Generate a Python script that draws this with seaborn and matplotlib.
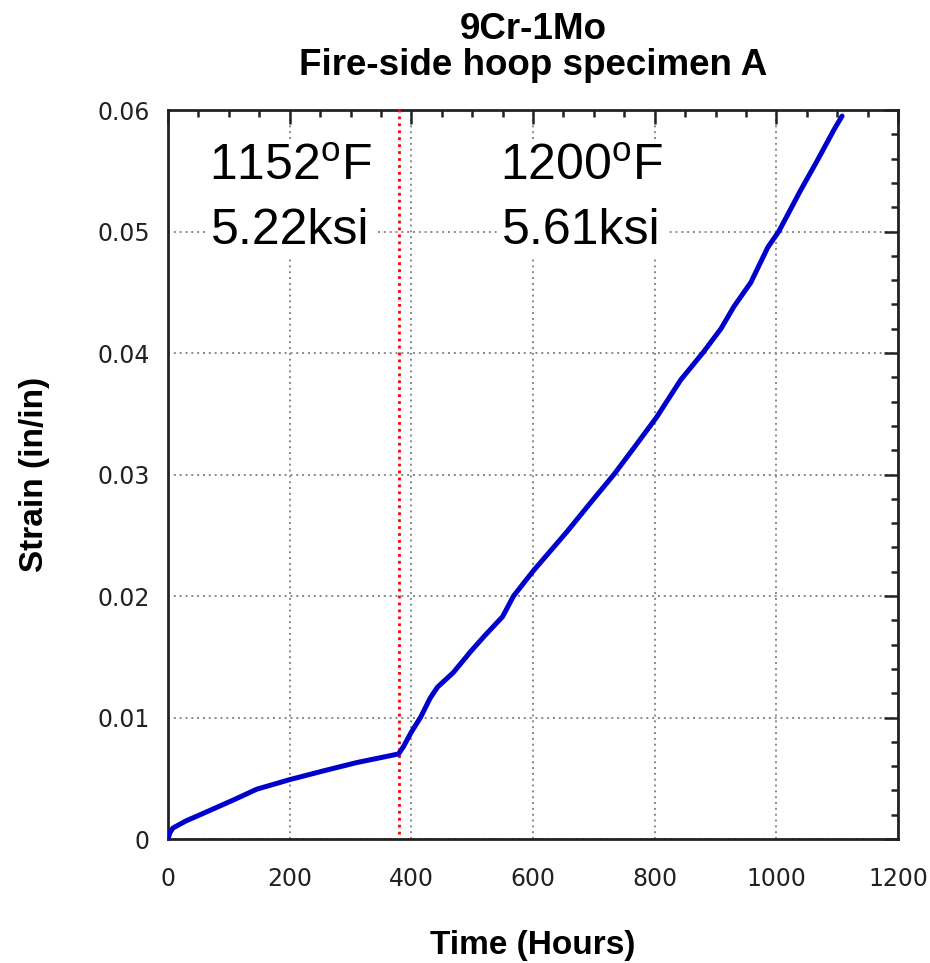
import numpy as np
import pandas as pd
import matplotlib
matplotlib.use("Agg")
import matplotlib.pyplot as plt
import seaborn as sns

hours = [0, 3, 8, 30, 53, 80, 107, 146, 201, 255, 311, 350, 379,
         387, 400, 415, 431, 443, 469, 497, 520, 550, 568, 601, 656,
         695, 733, 766, 803, 843, 879, 909, 930, 958, 986, 1004, 1040,
         1068, 1095, 1108]
strain = [0.0, 0.0005, 0.0009, 0.0015, 0.0020, 0.0026, 0.0032, 0.0041,
          0.0049, 0.0056, 0.0063, 0.0067, 0.0070,
          0.0076, 0.0088, 0.0100, 0.0116, 0.0125, 0.0137, 0.0154, 0.0167,
          0.0183, 0.0200, 0.0221, 0.0253, 0.0277, 0.0300, 0.0322, 0.0347,
          0.0378, 0.0400, 0.0420, 0.0438, 0.0458, 0.0487, 0.0500, 0.0534,
          0.0559, 0.0584, 0.0595]
switch_hour = 380
labels_left = ["1152$^{\\mathregular{o}}$F", "5.22ksi"]
labels_right = ["1200$^{\\mathregular{o}}$F", "5.61ksi"]
title = "9Cr-1Mo\nFire-side hoop specimen A"
xticks = [0, 200, 400, 600, 800, 1000, 1200]
yticks = [0, 0.01, 0.02, 0.03, 0.04, 0.05, 0.06]

sns.set_style("white")
plt.rcParams['font.family'] = ['Liberation Sans', 'DejaVu Sans']
plt.rcParams['text.color'] = 'black'

df = pd.DataFrame({"Time": hours, "Strain": strain})

fig = plt.figure(figsize=(9.3, 9.63), dpi=100)
ax = fig.add_axes([168/930, 1 - 839/963, (898-168)/930, (839-110)/963])

sns.lineplot(data=df, x="Time", y="Strain", ax=ax, color="#0000CC",
             linewidth=3.6, zorder=5)

ax.set_xlim(0, 1200)
ax.set_ylim(0, 0.06)
ax.set_xticks(xticks)
ax.set_yticks(yticks)
ax.set_xticklabels([str(t) for t in xticks])
ax.set_yticklabels(["0" if t == 0 else f"{t:.2f}" for t in yticks])
ax.set_xticks(np.arange(0, 1201, 50), minor=True)
ax.set_yticks(np.arange(0, 0.0601, 0.002), minor=True)
ax.tick_params(which="both", direction="in", top=True, right=True,
               width=1.8, color="#222222")
ax.tick_params(which="major", length=10, labelcolor="#222222")
ax.tick_params(axis="x", which="major", pad=20)
ax.tick_params(axis="y", which="major", pad=13)
ax.tick_params(which="minor", length=5)
for lab in ax.get_xticklabels() + ax.get_yticklabels():
    lab.set_fontfamily("DejaVu Sans")
    lab.set_fontsize(17)
for s in ax.spines.values():
    s.set_linewidth(2)
    s.set_color("#222222")

ax.grid(True, which="major", color="#888888", linestyle=(0, (1, 2)),
        linewidth=1.4)

ax.axvline(switch_hour, ymin=0.007, ymax=1.007, color="red",
           linestyle=(0, (1, 1.5)), linewidth=2, clip_on=False, zorder=4)

bbox = dict(facecolor="white", edgecolor="none", pad=2)
ax.text(201, 0.0527, "\n".join(labels_left), ha="center", va="center",
        fontsize=36, linespacing=1.5, bbox=bbox, zorder=3, color="black")
ax.text(679, 0.0527, "\n".join(labels_right), ha="center", va="center",
        fontsize=36, linespacing=1.5, bbox=bbox, zorder=3, color="black")

ax.set_title(title, fontsize=26.5, fontweight="bold", pad=25,
             linespacing=1.05, color="black")
ax.set_xlabel("Time (Hours)", fontsize=24, fontweight="bold", labelpad=28,
              color="black")
ax.set_ylabel("Strain (in/in)", fontsize=24, fontweight="bold", labelpad=34,
              color="black")

fig.savefig("out.png", dpi=100)
